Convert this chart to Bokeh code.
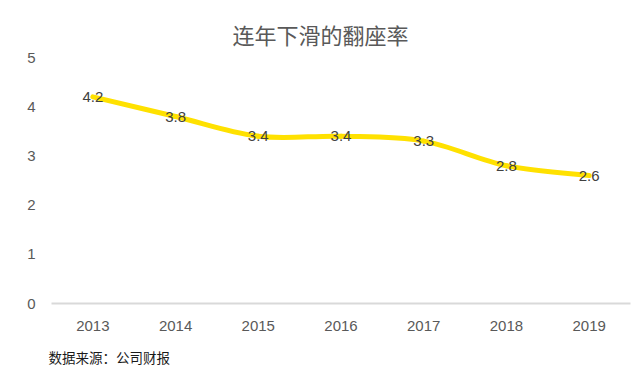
from bokeh.plotting import figure
from bokeh.models import Range1d, FixedTicker, Title, ColumnDataSource
from bokeh.core.properties import value
from bokeh.embed import file_html
from bokeh.resources import INLINE

years = ["2013", "2014", "2015", "2016", "2017", "2018", "2019"]
rates = [4.2, 3.8, 3.4, 3.4, 3.3, 2.8, 2.6]
rate_labels = ["4.2", "3.8", "3.4", "3.4", "3.3", "2.8", "2.6"]
y_ticks = [0, 1, 2, 3, 4, 5]
title_text = "连年下滑的翻座率"
source_text = "数据来源：公司财报"

xs = list(range(len(years)))

# smooth curve through the data points (Catmull-Rom -> cubic Bezier)
n = len(xs)
x0, y0, x1, y1, cx0, cy0, cx1, cy1 = [], [], [], [], [], [], [], []
for i in range(n - 1):
    pm = max(i - 1, 0)
    pp = min(i + 2, n - 1)
    x0.append(xs[i]); y0.append(rates[i])
    x1.append(xs[i + 1]); y1.append(rates[i + 1])
    cx0.append(xs[i] + (xs[i + 1] - xs[pm]) / 6)
    cy0.append(rates[i] + (rates[i + 1] - rates[pm]) / 6)
    cx1.append(xs[i + 1] - (xs[pp] - xs[i]) / 6)
    cy1.append(rates[i + 1] - (rates[pp] - rates[i]) / 6)

p = figure(width=640, height=377, output_backend="svg", toolbar_location=None,
           x_range=Range1d(-0.5, len(years) - 0.5), y_range=Range1d(0, 5),
           min_border_left=51, min_border_right=10, min_border_top=57,
           min_border_bottom=73, outline_line_color=None,
           background_fill_color="white", border_fill_color="white")

p.xgrid.visible = False
p.ygrid.visible = False

p.bezier(x0=x0, y0=y0, x1=x1, y1=y1, cx0=cx0, cy0=cy0, cx1=cx1, cy1=cy1,
         line_color="#FFE100", line_width=5, line_cap="round")

src = ColumnDataSource(dict(x=xs, y=rates, t=rate_labels))
p.text(x="x", y="y", text="t", source=src, text_align="center",
       text_baseline="middle", text_font=value("Liberation Sans"),
       text_font_size="15px", text_color="#404040")

p.xaxis.ticker = FixedTicker(ticks=xs)
p.xaxis.major_label_overrides = {i: y for i, y in enumerate(years)}
p.xaxis.axis_line_color = "#d9d9d9"
p.xaxis.axis_line_width = 2
p.xaxis.major_tick_line_color = None
p.xaxis.minor_tick_line_color = None
p.xaxis.major_label_standoff = 11
p.xaxis.major_label_text_font = "Liberation Sans"
p.xaxis.major_label_text_font_size = "15px"
p.xaxis.major_label_text_color = "#595959"

p.yaxis.ticker = FixedTicker(ticks=y_ticks)
p.yaxis.axis_line_color = None
p.yaxis.major_tick_line_color = None
p.yaxis.minor_tick_line_color = None
p.yaxis.major_label_standoff = 10
p.yaxis.major_label_text_font = "Liberation Sans"
p.yaxis.major_label_text_font_size = "15px"
p.yaxis.major_label_text_color = "#595959"

p.title.text = title_text
p.title.align = "left"
p.title.offset = 181
p.title.standoff = 14
p.title.vertical_align = "middle"
p.title.text_font = "Noto Sans CJK SC"
p.title.text_font_size = "22px"
p.title.text_font_style = "normal"
p.title.text_color = "#595959"

foot = Title(text=source_text, align="left", offset=-3, standoff=22,
             text_line_height=0.8,
             text_font="Noto Sans CJK SC", text_font_size="13.5px",
             text_font_style="normal", text_color="#1a1a1a")
p.add_layout(foot, "below")

open("out.html", "w").write(file_html(p, INLINE))
